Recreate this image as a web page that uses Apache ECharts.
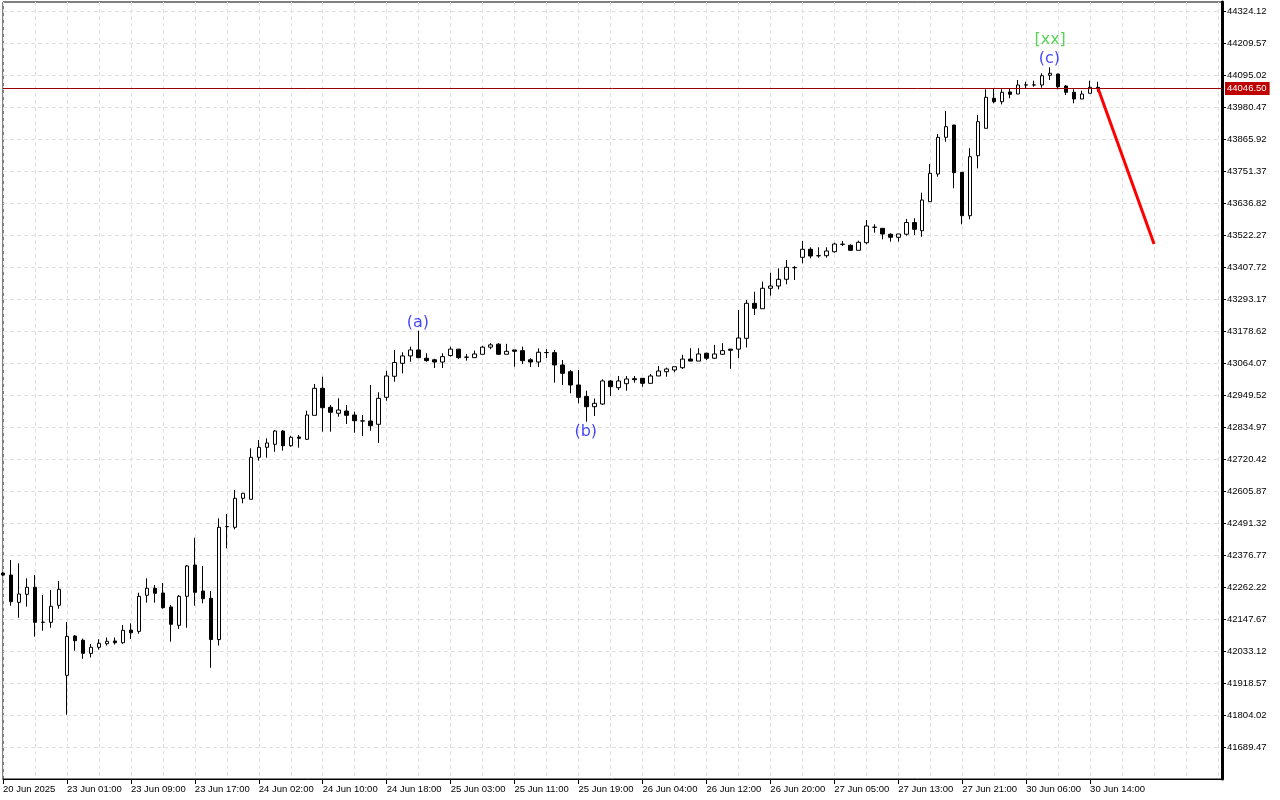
<!DOCTYPE html>
<html>
<head>
<meta charset="utf-8">
<script src="https://cdn.jsdelivr.net/npm/echarts@6/dist/echarts.min.js"></script>
<style>
html,body{margin:0;padding:0;background:#fff;}
#chart{width:1280px;height:800px;}
</style>
</head>
<body>
<div id="chart"></div>
<script>
// ---- data (hourly bars, index 0 = first bar on the left) ----
const open = [
42312.3,42305.2,42207.4,42236.1,42261.1,42135.9,42135.9,42196.7,41946.1,42086.8,
42071.5,42024.7,42046.4,42059.2,42068.9,42062.8,42108.1,42103.4,42232.6,42257.6,
42240.7,42190.6,42125.1,42228.9,42341.0,42247.9,42221.8,42074.0,42478.1,42475.9,
42579.7,42576.2,42726.5,42762.3,42773.0,42820.6,42767.9,42799.1,42791.0,42876.8,
42973.5,42905.5,42884.1,42892.2,42877.9,42856.4,42856.4,42844.6,42941.3,43016.5,
43063.0,43089.4,43110.8,43081.1,43075.6,43067.6,43090.8,43113.7,43084.7,43083.3,
43095.3,43120.8,43131.5,43095.3,43110.8,43108.3,43075.6,43067.6,43101.2,43101.2,
43057.0,43032.9,42985.4,42944.2,42907.7,42917.3,42999.7,42975.7,42990.0,43007.9,
43009.3,42991.4,43017.6,43032.9,43039.0,43047.2,43078.1,43070.9,43099.0,43081.1,
43095.3,43113.7,43113.7,43152.5,43277.8,43258.4,43331.5,43339.7,43363.7,43405.2,
43442.4,43471.1,43448.2,43448.2,43462.5,43488.9,43485.4,43467.5,43494.7,43549.8,
43546.2,43524.8,43514.0,43525.1,43567.0,43537.7,43641.5,43740.6,43872.0,43916.0,
43746.7,43591.4,43806.1,43904.2,44011.6,43999.4,44034.2,44027.0,44059.2,44059.2,
44059.2,44093.9,44098.6,44055.6,44033.1,44009.1,44029.5,44051.0
];
const close = [
42305.2,42209.6,42237.2,42261.1,42135.9,42136.5,42193.1,42254.0,42085.4,42070.0,
42024.7,42046.4,42060.7,42067.8,42062.8,42107.0,42098.4,42228.9,42257.6,42239.7,
42188.1,42128.7,42228.9,42337.4,42243.2,42220.3,42074.0,42475.9,42478.6,42579.7,
42597.6,42726.5,42762.3,42777.7,42820.6,42767.9,42798.0,42794.5,42877.9,42973.5,
42904.1,42887.7,42895.8,42876.8,42857.5,42856.9,42839.6,42937.7,43017.6,43065.9,
43089.4,43110.8,43083.3,43072.5,43067.6,43086.9,43113.7,43083.3,43085.2,43096.4,
43120.8,43129.0,43095.3,43106.0,43106.0,43072.5,43067.6,43102.6,43101.7,43057.0,
43027.2,42985.4,42941.3,42907.7,42919.8,42999.7,42979.3,42999.7,43006.8,43004.3,
42991.4,43017.6,43035.4,43042.6,43050.8,43078.1,43070.9,43096.4,43081.1,43096.4,
43108.3,43109.7,43153.6,43277.8,43259.9,43331.5,43339.7,43363.7,43406.6,43405.7,
43471.1,43447.1,43447.9,43465.0,43490.0,43489.3,43467.5,43496.1,43554.5,43550.2,
43525.9,43514.0,43525.9,43567.0,43542.7,43647.6,43743.1,43872.0,43910.0,43745.3,
43591.4,43802.6,43927.8,44015.2,43999.4,44033.1,44025.9,44059.2,44059.6,44059.6,
44092.5,44101.1,44053.1,44033.1,44009.1,44027.0,44051.0,44046.5
];
const low = [
42301.6,42195.3,42152.3,42191.7,42084.3,42105.6,42116.6,42184.5,41805.1,42034.2,
42005.2,42010.2,42037.8,42052.6,42056.2,42059.2,42076.2,42094.8,42206.0,42206.0,
42184.5,42066.4,42112.0,42116.6,42195.3,42203.9,41973.3,42052.6,42400.8,42468.8,
42561.8,42576.2,42714.6,42725.1,42746.5,42750.1,42764.4,42760.8,42788.4,42876.8,
42818.1,42818.1,42871.9,42845.7,42814.5,42802.7,42821.7,42778.1,42929.1,42997.2,
43027.2,43068.7,43081.1,43068.7,43046.1,43046.1,43086.9,43078.1,43072.5,43083.3,
43095.3,43113.7,43092.7,43095.3,43050.8,43060.5,43049.7,43049.7,43081.1,42993.6,
42985.4,42955.6,42919.8,42854.0,42874.4,42913.7,42946.0,42967.4,42964.9,42993.6,
42979.3,42991.4,43017.6,43015.0,43030.7,43042.6,43070.9,43070.9,43074.8,43078.1,
43092.7,43043.3,43081.1,43119.5,43235.8,43258.4,43305.0,43327.9,43345.8,43361.2,
43421.0,43438.8,43441.0,43441.0,43458.9,43482.9,43467.5,43467.5,43488.9,43530.5,
43506.9,43498.3,43498.3,43519.8,43522.3,43516.2,43641.5,43731.0,43856.3,43689.4,
43560.6,43578.5,43761.0,43904.2,43993.7,43990.1,44011.6,44027.0,44047.4,44053.1,
44049.6,44077.1,44043.8,44023.4,43993.7,44009.1,44029.5,44035.2
];
const high = [
42315.9,42358.9,42347.0,42293.3,42305.2,42233.6,42251.5,42283.7,42136.9,42090.4,
42077.6,42058.2,42075.1,42081.2,42081.2,42126.2,42132.2,42241.8,42293.3,42269.4,
42276.6,42197.8,42233.6,42341.0,42438.5,42337.4,42247.9,42508.1,42523.5,42609.4,
42599.0,42758.7,42788.4,42794.5,42824.2,42824.2,42803.7,42806.3,42893.3,42989.0,
43015.0,42913.7,42937.7,42913.7,42889.7,42877.9,42985.4,42959.2,43036.5,43110.8,
43102.6,43122.6,43179.7,43099.0,43079.2,43099.0,43122.6,43113.7,43096.4,43108.3,
43125.5,43135.1,43135.1,43132.6,43110.8,43122.6,43081.1,43116.7,43113.7,43110.8,
43074.8,43039.0,43039.0,42964.8,42937.0,43005.7,43003.2,43017.6,43017.6,43017.6,
43009.3,43024.7,43053.3,43047.2,43050.8,43093.5,43116.7,43116.7,43101.0,43129.0,
43135.1,43114.2,43253.8,43289.6,43319.3,43355.1,43387.3,43403.0,43432.8,43411.3,
43500.8,43478.2,43478.2,43478.2,43494.7,43500.8,43488.9,43501.9,43576.0,43560.6,
43546.2,43528.4,43525.9,43579.5,43582.1,43673.7,43776.4,43883.8,43966.2,43916.0,
43746.7,43832.6,43951.8,44043.8,44047.4,44043.8,44047.4,44077.1,44071.0,44074.6,
44101.1,44122.6,44098.6,44059.2,44043.8,44038.8,44074.6,44071.0
];

// time-axis labels, one every 8 bars starting at bar 0
const timeLabels = [
'20 Jun 2025','23 Jun 01:00','23 Jun 09:00','23 Jun 17:00','24 Jun 02:00','24 Jun 10:00',
'24 Jun 18:00','25 Jun 03:00','25 Jun 11:00','25 Jun 19:00','26 Jun 04:00','26 Jun 12:00',
'26 Jun 20:00','27 Jun 05:00','27 Jun 13:00','27 Jun 21:00','30 Jun 06:00','30 Jun 14:00'
];
const barsPerTimeLabel = 8;

// price-axis labels
const priceLabels = [
'44324.12','44209.57','44095.02','43980.47','43865.92','43751.37','43636.82','43522.27',
'43407.72','43293.17','43178.62','43064.07','42949.52','42834.97','42720.42','42605.87',
'42491.32','42376.77','42262.22','42147.67','42033.12','41918.57','41804.02','41689.47'
];
const priceMin = 41574.92;
const priceMax = 44356.34;

const currentPrice = 44046.50;

// projected move (bar index, price)
const forecastBars = [137, 144];
const forecastPrices = [44046.5, 43490.1];

// wave annotations
const waveText = ['(a)', '(b)', '(c)', '[xx]'];
const waveBar = [51.9, 72.9, 130.9, 131.0];
const wavePrice = [43208.0, 42818.0, 44152.5, 44220.0];

// ---- build chart ----
const candles = open.map((o, i) => [i, o, close[i], low[i], high[i]]);
const tickPositions = timeLabels.map((_, i) => i * barsPerTimeLabel);
const priceTicks = priceLabels.map(Number);
const waveColors = {'(a)': '#1414ff', '(b)': '#1414ff', '(c)': '#1414ff', '[xx]': '#32c832'};

const gridLine = {show: true, lineStyle: {color: '#e0e0e0', type: [4, 3], width: 1}};
const labelFont = {fontFamily: 'Liberation Sans', fontSize: 9.5, color: '#000'};

const chart = echarts.init(document.getElementById('chart'), null, {renderer: 'canvas'});
chart.setOption({
  animation: false,
  backgroundColor: '#ffffff',
  grid: {left: 2, right: 58, top: 2, bottom: 21, show: true, borderColor: '#000', borderWidth: 1, backgroundColor: 'transparent'},
  xAxis: [
    {
      type: 'value', min: 0, max: 152.5, interval: 4,
      axisLine: {show: true, onZero: false, lineStyle: {color: '#000', width: 1}},
      axisTick: {show: false}, axisLabel: {show: false},
      splitLine: gridLine
    },
    {
      type: 'value', min: 0, max: 152.5, position: 'bottom',
      axisLine: {show: false},
      axisTick: {show: true, length: 5, customValues: tickPositions, lineStyle: {color: '#000'}},
      axisLabel: Object.assign({
        customValues: tickPositions, align: 'left', margin: 5,
        formatter: v => timeLabels[Math.round(v / barsPerTimeLabel)] || ''
      }, labelFont),
      splitLine: {show: false}
    }
  ],
  yAxis: {
    type: 'value', position: 'right', min: priceMin, max: priceMax, scale: true,
    axisLine: {show: true, onZero: false, lineStyle: {color: '#000', width: 3}},
    axisTick: {show: true, length: 4, customValues: priceTicks, lineStyle: {color: '#000'}},
    axisLabel: Object.assign({
      customValues: priceTicks, margin: 5,
      formatter: v => v.toFixed(2)
    }, labelFont),
    splitLine: gridLine
  },
  series: [
    {
      type: 'candlestick', xAxisIndex: 0, yAxisIndex: 0,
      data: candles, barWidth: 4,
      itemStyle: {color: '#ffffff', color0: '#000000', borderColor: '#000000', borderColor0: '#000000', borderColorDoji: '#000000', borderWidth: 1},
      emphasis: {disabled: true},
      markLine: {
        silent: true, symbol: ['none', 'none'], animation: false,
        lineStyle: {color: '#9a0000', width: 1, type: 'solid'},
        emphasis: {disabled: true},
        label: {show: true, position: 'end', distance: 3, formatter: currentPrice.toFixed(2),
          backgroundColor: '#c00000', color: '#fff', fontFamily: 'Liberation Sans', fontSize: 9.5, padding: [2, 3, 1, 2]},
        data: [{yAxis: currentPrice}]
      },
      z: 3
    },
    {
      type: 'line', xAxisIndex: 0, yAxisIndex: 0,
      data: forecastBars.map((b, i) => [b, forecastPrices[i]]),
      symbol: 'none', lineStyle: {color: '#ff0000', width: 3}, z: 4,
      emphasis: {disabled: true}
    },
    {
      type: 'scatter', xAxisIndex: 0, yAxisIndex: 0, symbolSize: 0, z: 5,
      data: waveText.map((t, i) => ({
        value: [waveBar[i], wavePrice[i]],
        label: {show: true, formatter: t, color: waveColors[t]}
      })),
      label: {show: true, position: 'inside', align: 'center', verticalAlign: 'middle',
        fontFamily: 'DejaVu Sans', fontSize: 16},
      emphasis: {disabled: true}
    }
  ]
});
</script>
</body>
</html>
